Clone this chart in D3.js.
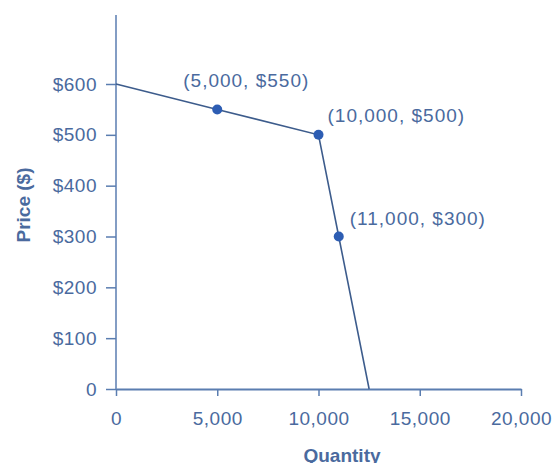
<!DOCTYPE html>
<html><head><meta charset="utf-8">
<script src="https://cdn.jsdelivr.net/npm/d3@7"></script>
<style>body{margin:0;background:#fff;} svg{display:block;} text{font-family:"Liberation Sans",Arial,sans-serif;}</style>
</head><body><svg id="c" width="555" height="463"></svg>
<script>
const curveQty = [0, 5000, 10000, 11000, 12500];
const curvePrice = [600, 550, 500, 300, 0];
const markedQty = [5000, 10000, 11000];
const markedPrice = [550, 500, 300];
const markedLabels = ["(5,000, $550)", "(10,000, $500)", "(11,000, $300)"];
const xTicks = [0, 5000, 10000, 15000, 20000];
const yTicks = [0, 100, 200, 300, 400, 500, 600];

const svg = d3.select("#c");
const x = d3.scaleLinear().domain([0, 20000]).range([116, 521]);
const y = d3.scaleLinear().domain([0, 600]).range([389, 84]);
const axisCol = "#5a7db0", textCol = "#4a6a9e";
const fs = 19;

// x axis
const gx = svg.append("g").attr("transform", `translate(0,${y(0)})`)
  .call(d3.axisBottom(x).tickValues(xTicks).tickSize(7).tickSizeOuter(0).tickPadding(16)
    .tickFormat(d3.format(",")));
gx.select(".domain").attr("stroke", axisCol).attr("stroke-width", 2);
gx.selectAll(".tick line").attr("stroke", axisCol).attr("stroke-width", 1.5);
gx.selectAll(".tick text").attr("fill", textCol).attr("font-size", fs).attr("letter-spacing", 0.5);

// y axis
svg.append("line").attr("x1", x(0)).attr("x2", x(0)).attr("y1", 15).attr("y2", y(0))
  .attr("stroke", axisCol).attr("stroke-width", 1.5);
const gy = svg.append("g").attr("transform", `translate(${x(0)},0)`)
  .call(d3.axisLeft(y).tickValues(yTicks).tickSize(10).tickSizeOuter(0).tickPadding(9)
    .tickFormat(d => d === 0 ? "0" : "$" + d));
gy.select(".domain").remove();
gy.selectAll(".tick line").attr("stroke", axisCol).attr("stroke-width", 1.5);
gy.selectAll(".tick text").attr("fill", textCol).attr("font-size", fs).attr("letter-spacing", 0.5);

// axis titles
svg.append("text").attr("transform", `translate(30,205) rotate(-90)`)
  .attr("text-anchor", "middle").attr("fill", textCol).attr("font-size", fs).attr("font-weight", "bold")
  .text("Price ($)");
svg.append("text").attr("x", 342).attr("y", 462).attr("text-anchor", "middle")
  .attr("fill", textCol).attr("font-size", fs).attr("font-weight", "bold").text("Quantity");

// curve
const pts = curveQty.map((q, i) => [q, curvePrice[i]]);
svg.append("path").datum(pts)
  .attr("d", d3.line().x(d => x(d[0])).y(d => y(d[1])))
  .attr("fill", "none").attr("stroke", "#3d5c8c").attr("stroke-width", 1.6);

// points
const mp = markedQty.map((q, i) => ({q, p: markedPrice[i], l: markedLabels[i]}));
svg.selectAll("circle.pt").data(mp).join("circle")
  .attr("cx", d => x(d.q)).attr("cy", d => y(d.p)).attr("r", 5).attr("fill", "#2d5db3");

const off = [[-34, -22], [9, -13], [11, -12]];
svg.selectAll("text.lbl").data(mp).join("text")
  .attr("x", (d, i) => x(d.q) + off[i][0]).attr("y", (d, i) => y(d.p) + off[i][1])
  .attr("fill", textCol).attr("font-size", fs).attr("letter-spacing", 1).text(d => d.l);
</script></body></html>
